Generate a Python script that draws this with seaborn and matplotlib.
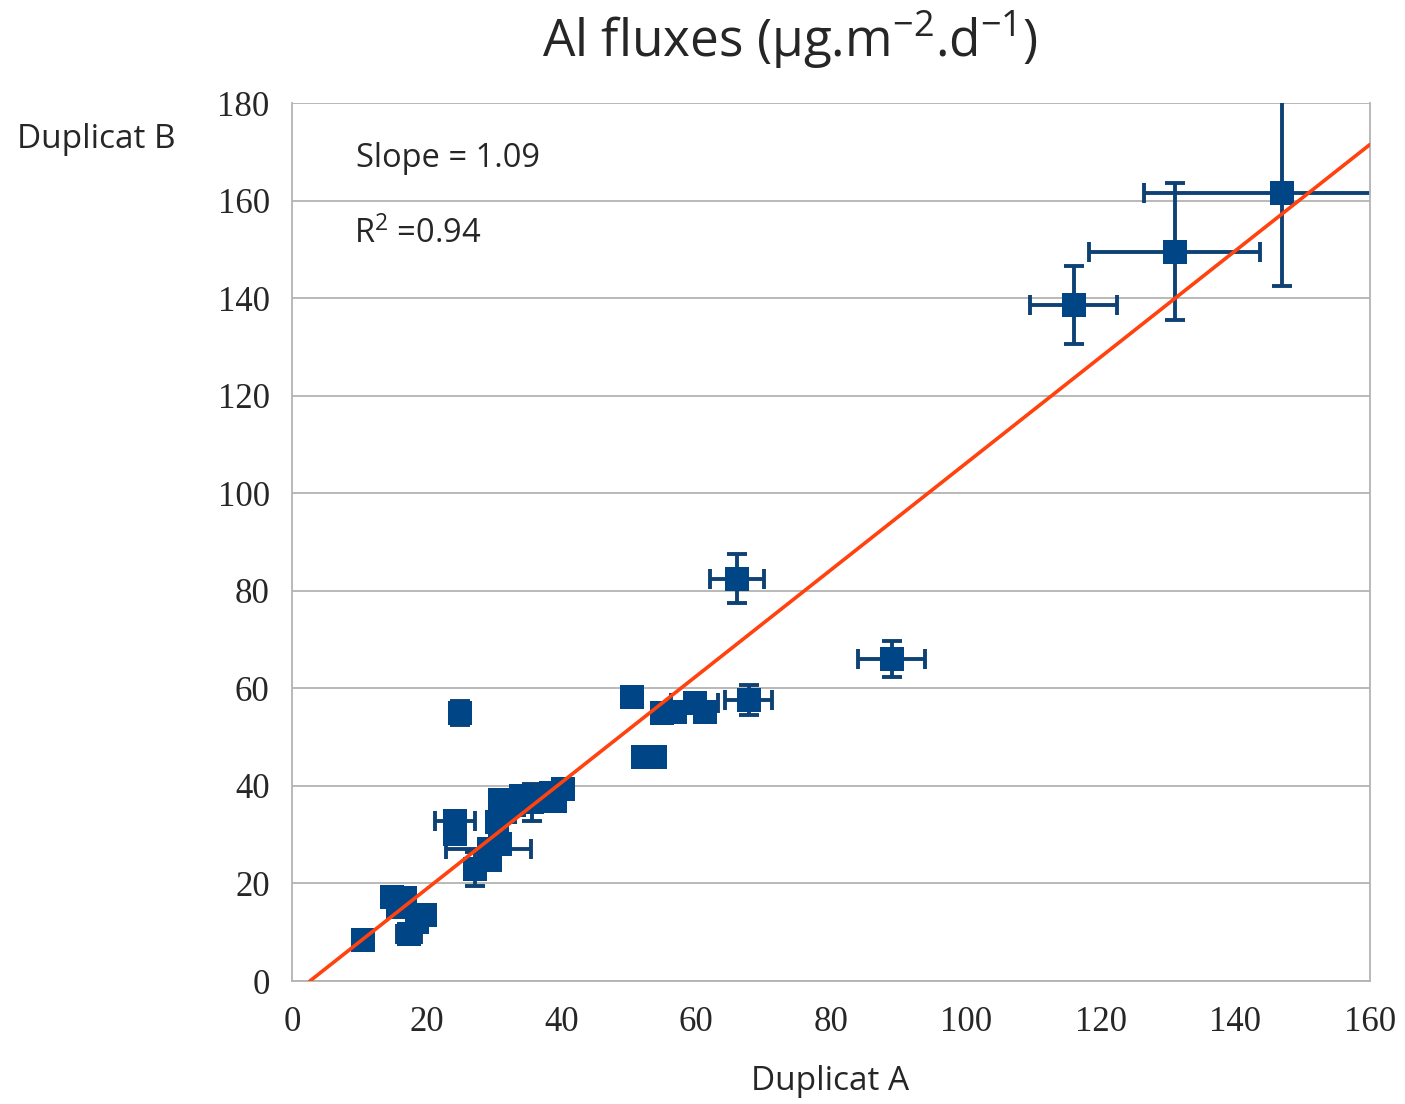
import numpy as np
import pandas as pd
import seaborn as sns
import matplotlib.pyplot as plt

# Duplicat A / Duplicat B fluxes with their uncertainties (0 = no bar)
dup_a = [10.5, 14.8, 16.8, 15.8, 17.4, 19.7, 18.6,
         24.2, 24.2, 25.0, 29.2, 27.2, 29.4, 30.9, 30.9, 31.6, 33.0,
         35.6, 37.5, 38.5, 40.2, 39.0, 34.0, 30.5,
         50.4, 52.1, 53.9, 54.9, 56.8, 59.8, 61.3, 67.8, 66.0, 89.0,
         116.0, 131.0, 147.0]
dup_b = [8.5, 17.3, 17.0, 15.2, 9.6, 13.5, 12.0,
         32.8, 30.2, 55.0, 27.0, 23.0, 24.8, 28.0, 37.1, 34.6, 36.0,
         36.6, 37.5, 38.5, 39.4, 37.0, 38.0, 32.5,
         58.3, 45.9, 45.9, 55.0, 55.2, 57.0, 55.1, 57.6, 82.5, 66.0,
         138.5, 149.5, 161.5]
err_a = [1.5, 0, 0, 0, 1.8, 0, 0,
         3.0, 0, 0, 6.3, 0, 0, 0, 0, 0, 0,
         0, 0, 0, 0, 0, 0, 0,
         0, 0, 0, 0, 0, 3.5, 0, 3.5, 4.0, 5.0,
         6.5, 12.7, 20.5]
err_b = [0, 0, 0, 0, 0, 0, 0,
         0, 0, 2.5, 0, 3.5, 0, 0, 0, 0, 0,
         3.7, 0, 0, 0, 0, 0, 0,
         0, 0, 0, 0, 0, 0, 0, 3.1, 5.0, 3.7,
         8.0, 14.0, 19.0]

slope = 1.09
intercept = -2.9

df = pd.DataFrame({"A": dup_a, "B": dup_b, "eA": err_a, "eB": err_b})

sns.set_style("white")
plt.rcParams["font.family"] = ["Open Sans", "DejaVu Sans"]
plt.rcParams["mathtext.fontset"] = "custom"
plt.rcParams["mathtext.rm"] = "Open Sans"
plt.rcParams["mathtext.it"] = "Open Sans"

fig = plt.figure(figsize=(14.05, 11.04), dpi=100)
ax = fig.add_axes([0.2078, 0.1114, 0.7673, 0.7953])

blue = "#004586"
ax.errorbar(df["A"], df["B"], xerr=df["eA"], yerr=df["eB"], fmt="none",
            ecolor="#0f4274", elinewidth=2.8, capsize=7.5, capthick=2.8, zorder=2)
sns.scatterplot(data=df, x="A", y="B", marker="s", s=300, color=blue,
                edgecolor=blue, linewidth=0, ax=ax, zorder=3)

x0 = -intercept / slope
xs = np.array([x0, 160])
sns.lineplot(x=xs, y=slope * xs + intercept, color="#ff420e", linewidth=2.6, ax=ax, zorder=4)

ax.set_xlim(0, 160)
ax.set_ylim(0, 180)
ax.set_xticks(np.arange(0, 161, 20))
ax.set_yticks(np.arange(0, 181, 20))
ax.yaxis.grid(True, color="#b3b3b3", linewidth=1.3)
ax.xaxis.grid(False)
for s in ax.spines.values():
    s.set_color("#b3b3b3")
    s.set_linewidth(1.3)
ax.spines["top"].set_visible(False)
ax.tick_params(axis="both", length=10, width=1.3, color="#b3b3b3", direction="out")
ax.tick_params(axis="x", pad=8)
ax.tick_params(axis="y", pad=6)
for lab in ax.get_xticklabels() + ax.get_yticklabels():
    lab.set_family("Liberation Serif")
    lab.set_fontsize(25)
ax.set_xlabel("")
ax.set_ylabel("")

ax.text(0.059, 0.937, "Slope = 1.09", transform=ax.transAxes, fontsize=23.5, va="center", ha="left")
ax.text(0.058, 0.851, r"R$^2$ =0.94", transform=ax.transAxes, fontsize=23.5, va="center", ha="left")

fig.text(790 / 1405, 1 - 40 / 1104, r"Al fluxes (μg.m$^{-2}$.d$^{-1}$)", fontsize=37,
         ha="center", va="center")
fig.text(17 / 1405, 1 - 140 / 1104, "Duplicat B", fontsize=24, ha="left", va="center")
fig.text(830 / 1405, 1 - 1082 / 1104, "Duplicat A", fontsize=24, ha="center", va="center")

fig.savefig("out.png", dpi=100)
